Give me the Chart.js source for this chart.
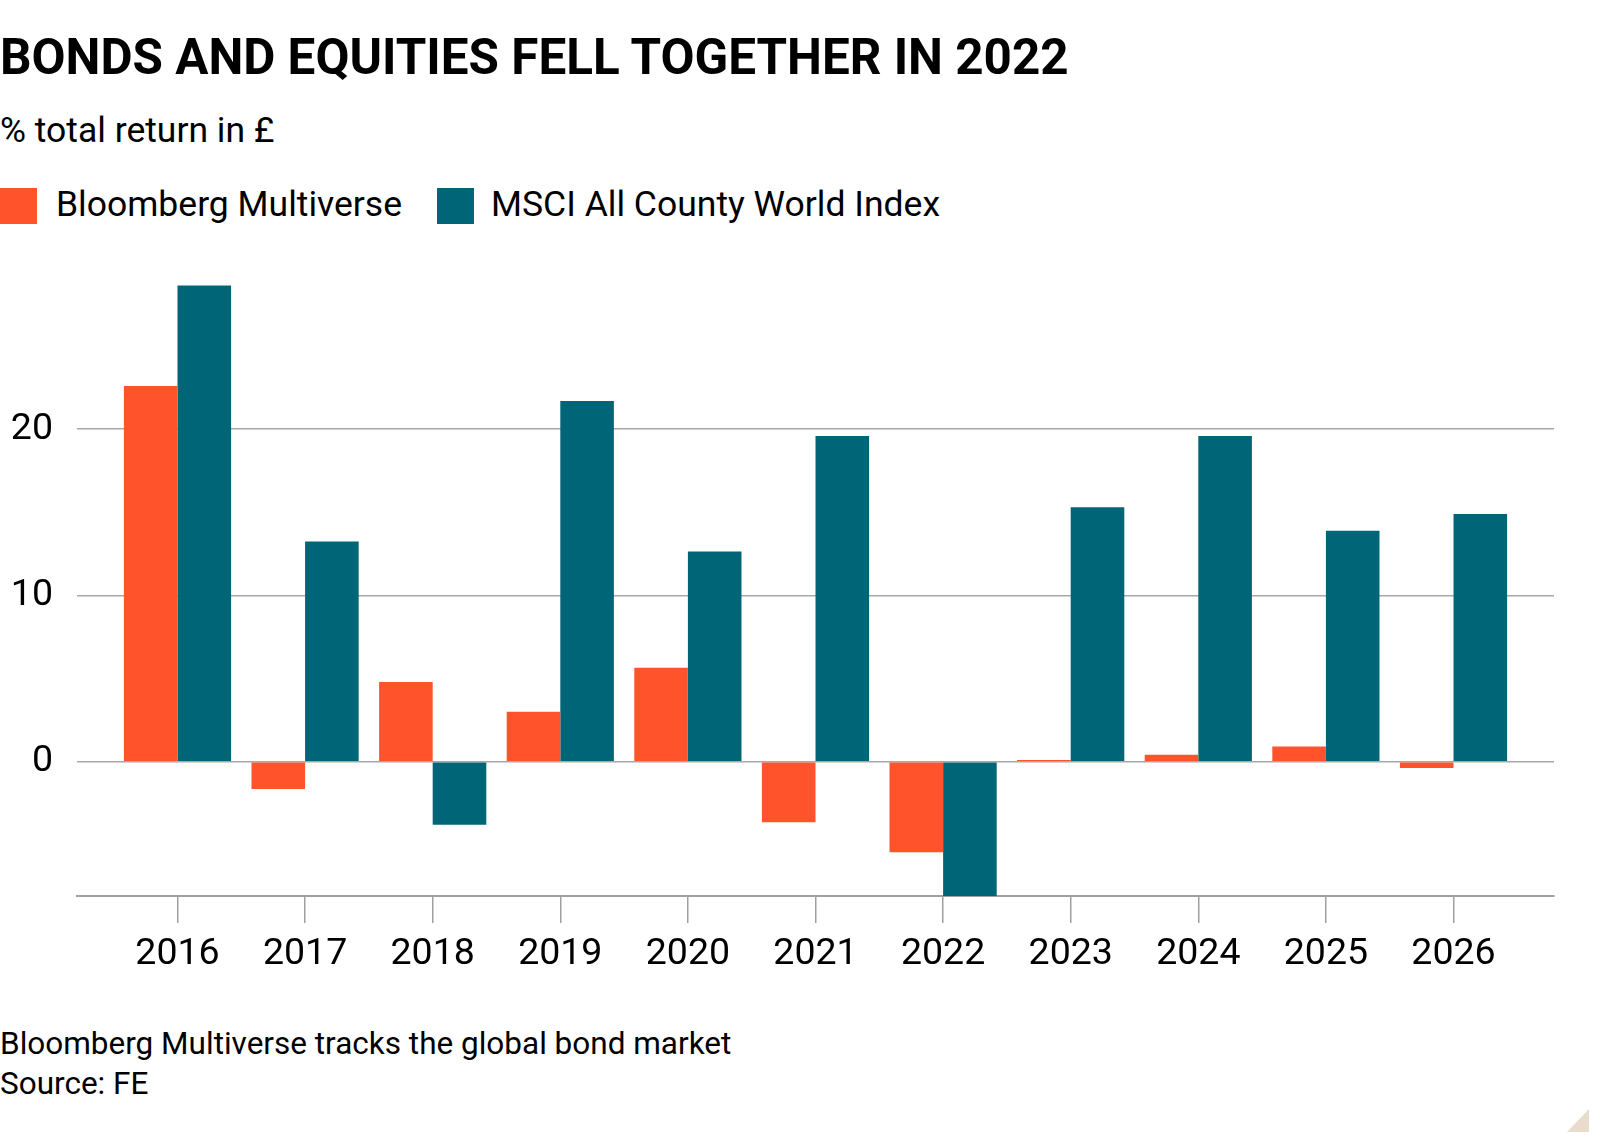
<!DOCTYPE html>
<html>
<head>
<meta charset="utf-8">
<script src="https://cdn.jsdelivr.net/npm/chart.js@4.4.1/dist/chart.umd.min.js"></script>
<style>
  html, body { margin:0; padding:0; background:#fff; }
  body { width:1600px; height:1143px; position:relative; overflow:hidden; font-family:Roboto, "Noto Sans", sans-serif; color:#000; }
  .title { position:absolute; left:0; top:28px; font-size:49.4px; font-weight:700; white-space:nowrap; }
  .sub { position:absolute; left:0; top:109px; font-size:35.5px; white-space:nowrap; }
  .legend { position:absolute; left:0; top:183px; font-size:35.5px; white-space:nowrap; }
  .legend span.sw { position:absolute; top:5px; width:37px; height:36px; }
  .legend span.lb { position:absolute; top:0; }
  .foot { position:absolute; left:0; font-size:31.5px; white-space:nowrap; }
  #wrap { position:absolute; left:0; top:250px; width:1600px; height:750px; }
  .corner { position:absolute; left:1567px; top:1109px; width:0; height:0; border-left:22px solid transparent; border-bottom:23px solid #eadccd; }
</style>
</head>
<body>
<div class="title">BONDS AND EQUITIES FELL TOGETHER IN 2022</div>
<div class="sub">% total return in £</div>
<div class="legend">
  <span class="sw" style="left:0;background:#ff532c"></span><span class="lb" style="left:56px">Bloomberg Multiverse</span>
  <span class="sw" style="left:437px;background:#006677"></span><span class="lb" style="left:491px">MSCI All County World Index</span>
</div>
<div id="wrap"><canvas id="c"></canvas></div>
<div class="foot" style="top:1025px">Bloomberg Multiverse tracks the global bond market</div>
<div class="foot" style="top:1065px">Source: FE</div>
<div class="corner"></div>
<script>
const years = ['2016','2017','2018','2019','2020','2021','2022','2023','2024','2025','2026'];
const bloomberg = [22.6, -1.65, 4.8, 3.0, 5.65, -3.65, -5.45, 0.1, 0.42, 0.92, -0.38];
const msci = [28.65, 13.25, -3.8, 21.7, 12.65, 19.6, -8.08, 15.3, 19.6, 13.9, 14.9];
const yTicks = [0, 10, 20];

const toPoints = arr => arr.map((v, i) => ({ x: i, y: v }));

new Chart(document.getElementById('c'), {
  type: 'bar',
  data: {
    datasets: [
      { label: 'Bloomberg Multiverse', data: toPoints(bloomberg), backgroundColor: '#ff532c' },
      { label: 'MSCI All County World Index', data: toPoints(msci), backgroundColor: '#006677' }
    ]
  },
  options: {
    responsive: true,
    maintainAspectRatio: false,
    animation: false,
    categoryPercentage: 0.84,
    barPercentage: 1,
    layout: { padding: { top: 13, right: 46, left: 0, bottom: 0 } },
    plugins: { legend: { display: false }, tooltip: { enabled: false } },
    scales: {
      x: {
        type: 'linear',
        offset: false,
        min: -0.7875,
        max: 10.7875,
        afterBuildTicks: s => { s.ticks = years.map((_, i) => ({ value: i })); },
        afterFit: s => { s.height = 104; s.paddingLeft = 0; s.paddingRight = 0; },
        grid: { offset: false, drawOnChartArea: false, drawTicks: true, tickLength: 27, color: '#a0a0a0', lineWidth: 1.5 },
        border: { display: true, color: '#a0a0a0', width: 2 },
        ticks: { padding: 9, color: '#000', font: { family: 'Roboto', size: 37.5 }, callback: v => years[v] ?? '', maxRotation: 0, autoSkip: false }
      },
      y: {
        min: -8.08,
        max: 30,
        afterBuildTicks: s => { s.ticks = yTicks.map(v => ({ value: v })); },
        afterFit: s => { s.width = 77; s.paddingTop = 0; s.paddingBottom = 0; },
        grid: { drawTicks: false, color: '#a8a8a8', lineWidth: 1.5 },
        border: { display: false },
        ticks: { padding: 24, color: '#000', font: { family: 'Roboto', size: 37.5 } }
      }
    }
  }
});
</script>
</body>
</html>
